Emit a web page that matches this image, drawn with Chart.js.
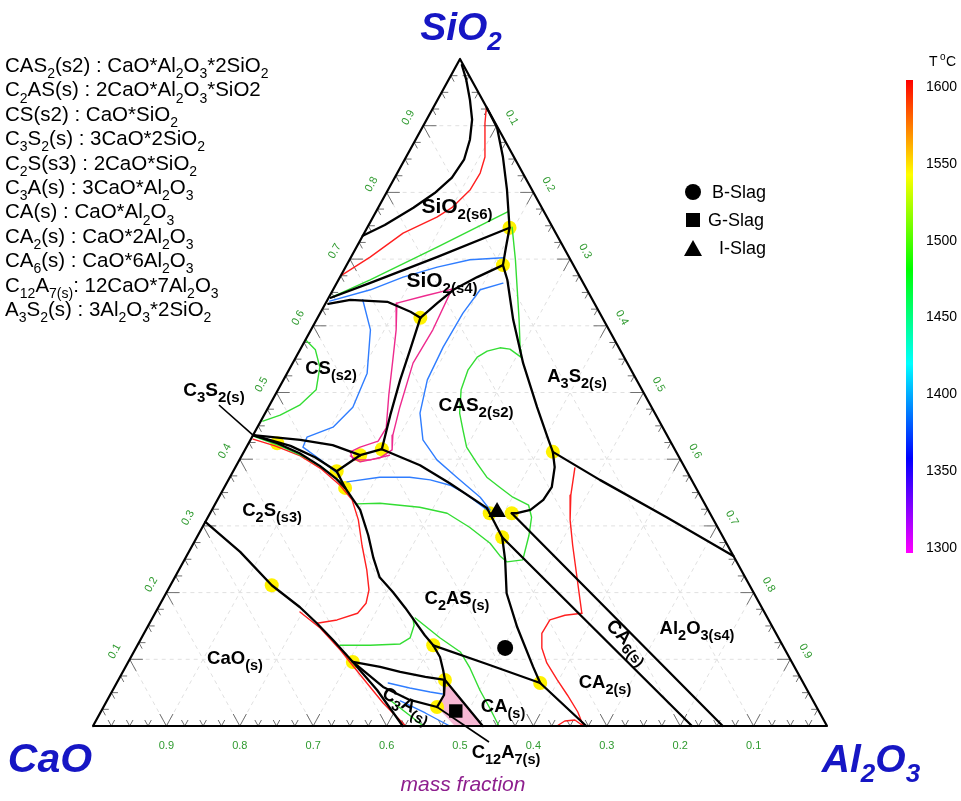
<!DOCTYPE html>
<html><head><meta charset="utf-8">
<script src="https://cdn.jsdelivr.net/npm/chart.js@4.4.1/dist/chart.umd.min.js"></script>
<style>html,body{margin:0;padding:0;background:#fff;}canvas{display:block;}</style>
</head><body>
<canvas id="c" width="961" height="801"></canvas>
<script>
// ---------- data: compositions as [SiO2, Al2O3] mass fractions (CaO = 1 - both) ----------
const frameLine = [[0,0],[0,1],[1,0],[0,0]];
const tickVals = [0.1,0.2,0.3,0.4,0.5,0.6,0.7,0.8,0.9];
const tempTicks = [1600,1550,1500,1450,1400,1350,1300];

// phase boundaries (black)
const bndSiO2s6 = [[0.735,0],[0.751,0.022],[0.777,0.048],[0.799,0.066],[0.822,0.078],[0.849,0.081],[0.879,0.074],[0.909,0.062],[0.939,0.044],[0.969,0.024],[0.991,0.007]];
const bndSiO2Right = [[0.927,0.073],[0.897,0.102],[0.853,0.132],[0.804,0.162],[0.747,0.194],[0.717,0.204],[0.691,0.213],[0.669,0.230],[0.609,0.268],[0.544,0.314],[0.478,0.366],[0.429,0.406],[0.411,0.421],[0.388,0.435],[0.358,0.446],[0.339,0.444],[0.324,0.434],[0.319,0.418],[0.319,0.411]];
const bndA3S2Al2O3 = [[0.411,0.421],[0.369,0.506],[0.313,0.625],[0.255,0.745]];
const bndCA6Upper = [[0.319,0.411],[0,0.858]];
const bndCA6Lower = [[0.283,0.416],[0,0.816]];
const bndC2ASCAS2 = [[0.415,0.186],[0.391,0.250],[0.364,0.304],[0.327,0.373],[0.319,0.381]];
const bndC2ASCA2 = [[0.319,0.381],[0.283,0.416],[0.249,0.437],[0.199,0.464],[0.148,0.504],[0.089,0.555],[0.0645,0.577]];
const bndCACA2 = [[0.0645,0.577],[0,0.672]];
const bndC2ASCA = [[0.121,0.403],[0.093,0.490],[0.0645,0.577]];
const bndC2SC2AS = [[0.357,0.165],[0.324,0.202],[0.286,0.232],[0.252,0.256],[0.223,0.279],[0.201,0.308],[0.177,0.337],[0.156,0.361],[0.136,0.384],[0.121,0.403]];
const bndC12A7Left = [[0.121,0.403],[0.1035,0.421],[0.084,0.435],[0.069,0.445],[0.0465,0.455],[0.0285,0.4545]];
const bndC12A7Right = [[0.069,0.445],[0,0.531]];
const bndC3ATop = [[0.096,0.306],[0.0885,0.347],[0.081,0.378],[0.0735,0.416],[0.069,0.445]];
const bndC3ABottom = [[0.096,0.306],[0.0585,0.366],[0.039,0.412],[0.0285,0.4545]];
const bndCaO = [[0.306,0],[0.261,0.070],[0.211,0.138],[0.178,0.193],[0.154,0.228],[0.129,0.2625],[0.096,0.306],[0.054,0.360],[0,0.422]];
const bndSiO2s4Top = [[0.642,0.003],[0.664,0.045],[0.703,0.117],[0.747,0.194]];
const bndSiO2s4Bottom = [[0.633,0.004],[0.639,0.031],[0.636,0.083],[0.621,0.122],[0.612,0.140]];
const bndSiO2s4Right = [[0.612,0.140],[0.634,0.152],[0.654,0.164],[0.673,0.187],[0.691,0.213]];
const bndCSCAS2 = [[0.612,0.140],[0.564,0.150],[0.519,0.159],[0.466,0.172],[0.415,0.186]];
const bndCSJoin = [[0.415,0.186],[0.406,0.161]];
const bndC3S2Top = [[0.436,0],[0.432,0.039],[0.429,0.068],[0.421,0.116],[0.406,0.161]];
const bndC3S2Bottom = [[0.436,0],[0.420,0.059],[0.403,0.101],[0.382,0.141]];
const bndC3S2Join = [[0.406,0.161],[0.382,0.141]];
const bndC2S = [[0.436,0],[0.424,0.039],[0.409,0.077],[0.390,0.114],[0.370,0.147],[0.357,0.165]];
const bndC2SJoin = [[0.382,0.141],[0.357,0.165]];

// isotherms (coloured)
const isoRedTop = [[0.928,0.072],[0.904,0.082],[0.853,0.1075],[0.829,0.113],[0.804,0.112],[0.778,0.101],[0.763,0.087],[0.739,0.053],[0.703,0.026],[0.676,0.001]];
const isoGreenTop = [[0.771,0.180],[0.718,0.110],[0.669,0.043],[0.643,0.004]];
const isoBlueTop = [[0.702,0.208],[0.699,0.164],[0.688,0.125],[0.673,0.086],[0.654,0.051],[0.637,0.004]];
const isoBlueCAS2 = [[0.664,0.2265],[0.654,0.2005],[0.619,0.1945],[0.568,0.193],[0.519,0.196],[0.469,0.211],[0.429,0.235],[0.399,0.269],[0.373,0.309],[0.343,0.356],[0.324,0.379]];
const isoBlueC2AS = [[0.366,0.163],[0.373,0.204],[0.373,0.245],[0.369,0.275],[0.361,0.306],[0.349,0.332],[0.324,0.375]];
const isoBlueCS = [[0.639,0.048],[0.594,0.081],[0.529,0.109],[0.478,0.115],[0.448,0.103],[0.433,0.075],[0.418,0.077],[0.400,0.109],[0.376,0.148]];
const isoGreenCAS2 = [[0.748,0.197],[0.699,0.226],[0.654,0.251],[0.609,0.276],[0.564,0.300],[0.553,0.3065],[0.565,0.2855],[0.567,0.271],[0.562,0.256],[0.553,0.247],[0.534,0.244],[0.504,0.2495],[0.469,0.265],[0.444,0.282],[0.418,0.300],[0.394,0.326],[0.373,0.350],[0.358,0.375],[0.343,0.4005],[0.331,0.428],[0.313,0.441],[0.286,0.451],[0.249,0.461],[0.246,0.441],[0.255,0.427],[0.274,0.404],[0.298,0.364],[0.319,0.323],[0.328,0.281],[0.334,0.224],[0.333,0.193]];
const isoGreenC2S = [[0.434,0.003],[0.420,0.045],[0.403,0.087],[0.385,0.123],[0.367,0.153],[0.354,0.169]];
const isoRedC2S = [[0.430,0.003],[0.420,0.038],[0.405,0.080],[0.385,0.119],[0.361,0.156],[0.339,0.1835],[0.309,0.207],[0.271,0.231],[0.234,0.256],[0.204,0.274],[0.184,0.280],[0.169,0.276],[0.159,0.253],[0.154,0.228]];
const isoRedCaO = [[0.171,0.1965],[0.147,0.236],[0.114,0.280],[0.0765,0.326],[0.0345,0.378],[0,0.426]];
const isoGreenCaO = [[0.121,0.276],[0.121,0.317],[0.123,0.357],[0.132,0.366],[0.151,0.362],[0.163,0.354]];
const isoGreenCA = [[0.162,0.358],[0.132,0.407],[0.111,0.445],[0.087,0.470],[0.054,0.500],[0.027,0.527],[0,0.553]];
const isoGreenC3A = [[0.039,0.385],[0.021,0.415],[0,0.450]];
const isoBlueC3A1 = [[0.0645,0.370],[0.057,0.403],[0.051,0.434],[0.048,0.452]];
const isoBlueC3A2 = [[0.0375,0.400],[0.0195,0.443],[0,0.486]];
const isoGreenCS = [[0.579,0],[0.564,0.021],[0.538,0.040],[0.504,0.052],[0.481,0.041],[0.466,0.022],[0.457,0.003]];
const isoRedCA2a = [[0.387,0.463],[0.346,0.478],[0.309,0.4955],[0.271,0.518],[0.226,0.546],[0.189,0.569],[0.169,0.5815]];
const isoRedCA2b = [[0.169,0.5815],[0.166,0.560],[0.159,0.543],[0.139,0.542],[0.117,0.553],[0.0945,0.571],[0.069,0.598],[0.0465,0.623],[0.021,0.650],[0,0.668]];
const isoRedBottom = [[0,0.632],[0.0075,0.639],[0.009,0.652],[0,0.668]];
const isoPinkLeft = [[0.634,0.097],[0.594,0.116],[0.549,0.134],[0.496,0.155],[0.447,0.176],[0.427,0.175],[0.418,0.155],[0.411,0.145],[0.399,0.155],[0.399,0.178],[0.406,0.201]];
const isoPinkRight = [[0.655,0.1615],[0.594,0.166],[0.544,0.164],[0.478,0.179],[0.436,0.1905],[0.414,0.2005],[0.402,0.190],[0.396,0.166],[0.405,0.148]];
const isoPinkTop = [[0.634,0.097],[0.645,0.130],[0.655,0.1615]];

// C12A7 field (shaded)
const c12a7Field = [[0.0675,0.446],[0,0.531],[0,0.493],[0.027,0.4565],[0.0465,0.455],[0.0675,0.446]];

// invariant points
const invariantPts = [[0.747,0.194],[0.691,0.213],[0.612,0.140],[0.415,0.186],[0.406,0.161],[0.424,0.039],[0.382,0.141],[0.357,0.165],[0.411,0.421],[0.319,0.381],[0.319,0.411],[0.283,0.416],[0.211,0.138],[0.096,0.306],[0.121,0.403],[0.069,0.445],[0.0285,0.4545],[0.0645,0.577]];

// slag compositions
const slagNames = ['B-Slag','G-Slag','I-Slag'];
const slagSiO2 = [0.117,0.0225,0.321];
const slagAl2O3 = [0.503,0.483,0.390];

// ---------- mapping ----------
const XMIN = -93/734, XMAX = XMIN + 961/734;
const YMAX = 726/667, YMIN = YMAX - 801/667;
function tern(p){ return {x: p[1] + p[0]/2, y: p[0]}; }

const FONT = '"Liberation Sans", Arial, Helvetica, sans-serif';
const RED = '#ff1f1f', GREEN = '#33dd33', BLUE = '#2f7dff', PINK = '#ee2a8e';

function ln(arr, color, width, order){
  return {data: arr.map(tern), showLine:true, borderColor:color, borderWidth:width, pointRadius:0, pointHoverRadius:0, fill:false, order:order, borderJoinStyle:'round', borderCapStyle:'round'};
}
const blackSets = [bndSiO2s6,bndSiO2Right,bndA3S2Al2O3,bndCA6Upper,bndCA6Lower,bndC2ASCAS2,bndC2ASCA2,bndCACA2,bndC2ASCA,bndC2SC2AS,bndC12A7Left,bndC12A7Right,bndC3ATop,bndC3ABottom,bndCaO,bndSiO2s4Top,bndSiO2s4Bottom,bndSiO2s4Right,bndCSCAS2,bndCSJoin,bndC3S2Top,bndC3S2Bottom,bndC3S2Join,bndC2S,bndC2SJoin];
const colorSets = [
  [isoRedTop,RED],[isoGreenTop,GREEN],[isoBlueTop,BLUE],[isoBlueCAS2,BLUE],[isoBlueC2AS,BLUE],[isoBlueCS,BLUE],
  [isoGreenCAS2,GREEN],[isoGreenC2S,GREEN],[isoRedC2S,RED],[isoRedCaO,RED],[isoGreenCaO,GREEN],[isoGreenCA,GREEN],
  [isoGreenC3A,GREEN],[isoBlueC3A1,BLUE],[isoBlueC3A2,BLUE],[isoGreenCS,GREEN],[isoRedCA2a,RED],[isoRedCA2b,RED],
  [isoRedBottom,RED],[isoPinkLeft,PINK],[isoPinkRight,PINK],[isoPinkTop,PINK]
];
const datasets = [];
datasets.push(ln(frameLine,'#000',2.2,1));
blackSets.forEach(a => datasets.push(ln(a,'#000',2.3,2)));
colorSets.forEach(a => datasets.push(ln(a[0],a[1],1.4,5)));
datasets.push({data:c12a7Field.map(tern), showLine:true, borderColor:'rgba(0,0,0,0)', borderWidth:0, backgroundColor:'#f6b8d4', fill:'shape', pointRadius:0, order:12});
datasets.push({data:invariantPts.map(tern), showLine:false, pointRadius:7, pointBackgroundColor:'#fff200', pointBorderWidth:0, order:11});
const slagStyles = ['circle','rect','triangle'];
const slagRadius = [8,9.5,10];
slagNames.forEach((n,i) => datasets.push({label:n, data:[tern([slagSiO2[i],slagAl2O3[i]])], showLine:false, pointStyle:slagStyles[i], pointRadius:slagRadius[i], pointBackgroundColor:'#000', pointBorderColor:'#000', pointBorderWidth:0, order:0}));

// ---------- drawing helpers ----------
function rich(ctx, str, x, y, o){
  const parts = []; const re = /_\{([^}]*)\}/g; let last = 0, m;
  while ((m = re.exec(str))) { if (m.index > last) parts.push({t:str.slice(last,m.index),s:0}); parts.push({t:m[1],s:1}); last = re.lastIndex; }
  if (last < str.length) parts.push({t:str.slice(last),s:0});
  const f = s => (o.style||'normal')+' '+(o.weight||'normal')+' '+(s?o.sub:o.size)+'px '+FONT;
  let w = 0; parts.forEach(p => { ctx.font = f(p.s); p.w = ctx.measureText(p.t).width; w += p.w; });
  let cx = o.align==='center' ? x - w/2 : x;
  ctx.fillStyle = o.color || '#000'; ctx.textAlign = 'left'; ctx.textBaseline = 'alphabetic';
  parts.forEach(p => { ctx.font = f(p.s); ctx.fillText(p.t, cx, y + (p.s ? o.size*(o.subDy||0.28) : 0)); cx += p.w; });
}
function seg(ctx,a,b){ ctx.beginPath(); ctx.moveTo(a.x,a.y); ctx.lineTo(b.x,b.y); ctx.stroke(); }
function mapper(chart){ const xs = chart.scales.x, ys = chart.scales.y; return (s,a) => ({x: xs.getPixelForValue(a + s/2), y: ys.getPixelForValue(s)}); }

const legendLines = [
 'CAS_{2}(s2) : CaO*Al_{2}O_{3}*2SiO_{2}',
 'C_{2}AS(s) : 2CaO*Al_{2}O_{3}*SiO2',
 'CS(s2) : CaO*SiO_{2}',
 'C_{3}S_{2}(s) : 3CaO*2SiO_{2}',
 'C_{2}S(s3) : 2CaO*SiO_{2}',
 'C_{3}A(s) : 3CaO*Al_{2}O_{3}',
 'CA(s) : CaO*Al_{2}O_{3}',
 'CA_{2}(s) : CaO*2Al_{2}O_{3}',
 'CA_{6}(s) : CaO*6Al_{2}O_{3}',
 'C_{12}A_{7(s)}: 12CaO*7Al_{2}O_{3}',
 'A_{3}S_{2}(s) : 3Al_{2}O_{3}*2SiO_{2}'
];
// text, centre x, centre y, rotation, size, sub size
const fieldLabels = [
 ['SiO_{2(s6)}',457,207,0,21,15],['SiO_{2(s4)}',442,281,0,21,15],['CS_{(s2)}',331,368,0,18.5,14.5],['CAS_{2(s2)}',476,405,0,19,15],
 ['A_{3}S_{2(s)}',577,376,0,18.5,14.5],['C_{3}S_{2(s)}',214,390,0,19,15],['C_{2}S_{(s3)}',272,510,0,18.5,14.5],['C_{2}AS_{(s)}',457,598,0,18.5,14.5],
 ['CaO_{(s)}',235,658,0,18.5,14.5],['CA_{(s)}',503,706,0,18.5,14.5],['CA_{2(s)}',605,682,0,18.5,14.5],['Al_{2}O_{3(s4)}',697,628,0,18.5,14.5],
 ['CA_{6(s)}',628,641,45,18.5,14.5],['C_{3}A_{(s)}',407,704,28,18.5,14.5],['C_{12}A_{7(s)}',506,752,0,18.5,14.5]
];

const decor = {
  id:'decor',
  beforeDatasetsDraw(chart){
    const ctx = chart.ctx, P = mapper(chart);
    ctx.save();
    ctx.strokeStyle = '#e0e0e0'; ctx.lineWidth = 1; ctx.setLineDash([4,4]);
    tickVals.forEach(t => { seg(ctx,P(t,0),P(t,1-t)); seg(ctx,P(0,t),P(1-t,t)); seg(ctx,P(0,1-t),P(1-t,0)); });
    ctx.setLineDash([]);
    ctx.strokeStyle = '#707070'; ctx.lineWidth = 1;
    for (let i=1;i<40;i++){
      const t = i*0.025, L = (i%4===0) ? 0.018 : 0.009;
      seg(ctx,P(0,t),P(L,t-L)); seg(ctx,P(0,t),P(L,t));
      seg(ctx,P(t,0),P(t,L)); seg(ctx,P(t,0),P(t-L,L));
      seg(ctx,P(t,1-t),P(t,1-t-L)); seg(ctx,P(t,1-t),P(t-L,1-t));
    }
    ctx.restore();
  },
  afterDatasetsDraw(chart){
    const ctx = chart.ctx, P = mapper(chart);
    ctx.save();
    // tick labels
    ctx.fillStyle = '#2f9a2f'; ctx.font = '11px '+FONT; ctx.textAlign = 'center'; ctx.textBaseline = 'middle';
    tickVals.forEach(t => {
      const lab = t.toFixed(1);
      const b = P(0,1-t); ctx.fillText(lab, b.x, b.y+20);
      const l = P(t,0); ctx.save(); ctx.translate(l.x-15, l.y-8); ctx.rotate(-61*Math.PI/180); ctx.fillText(lab,0,0); ctx.restore();
      const r = P(1-t,t); ctx.save(); ctx.translate(r.x+15, r.y-8); ctx.rotate(61*Math.PI/180); ctx.fillText(lab,0,0); ctx.restore();
    });
    // leader lines
    ctx.strokeStyle = '#000'; ctx.lineWidth = 1.6;
    const a1 = P(0.436,0); seg(ctx,{x:219,y:405},a1);
    const a2 = P(0.0285,0.4545); seg(ctx,a2,{x:489,y:742});
    // field labels
    fieldLabels.forEach(f => {
      ctx.save(); ctx.translate(f[1],f[2]); ctx.rotate(f[3]*Math.PI/180);
      rich(ctx,f[0],0,6,{size:f[4],sub:f[5],weight:'bold',align:'center',subDy:0.3});
      ctx.restore();
    });
    // compound legend
    legendLines.forEach((s,i) => rich(ctx,s,5,72+i*24.4,{size:20.5,sub:14,align:'left',subDy:0.3}));
    // vertex titles
    const tc = '#1616c4';
    rich(ctx,'SiO_{2}',461,40,{size:39,sub:26,weight:'bold',style:'italic',color:tc,align:'center',subDy:0.25});
    rich(ctx,'CaO',50,772,{size:41,sub:26,weight:'bold',style:'italic',color:tc,align:'center'});
    rich(ctx,'Al_{2}O_{3}',871,772,{size:39,sub:26,weight:'bold',style:'italic',color:tc,align:'center',subDy:0.25});
    ctx.fillStyle = '#8e1f8e'; ctx.font = 'italic 21px '+FONT; ctx.textAlign = 'center'; ctx.textBaseline = 'middle';
    ctx.fillText('mass fraction',463,785);
    // slag legend
    ctx.fillStyle = '#000';
    ctx.beginPath(); ctx.arc(693,192,8,0,Math.PI*2); ctx.fill();
    ctx.fillRect(686,213,14,14);
    ctx.beginPath(); ctx.moveTo(693,240); ctx.lineTo(702,256); ctx.lineTo(684,256); ctx.closePath(); ctx.fill();
    ctx.font = '18px '+FONT; ctx.textAlign = 'left'; ctx.textBaseline = 'middle';
    ctx.fillText(slagNames[0],712,193); ctx.fillText(slagNames[1],708,221); ctx.fillText(slagNames[2],719,249);
    // colour bar
    const top = 80, bot = 553;
    const g = ctx.createLinearGradient(0,top,0,bot);
    for (let T=1600; T>=1300; T-=10){ g.addColorStop((1600-T)/300, 'hsl('+(1600-T)+',100%,50%)'); }
    ctx.fillStyle = g; ctx.fillRect(906,top,7,bot-top);
    ctx.fillStyle = '#000'; ctx.font = '14px '+FONT; ctx.textAlign = 'left'; ctx.textBaseline = 'middle';
    tempTicks.forEach(T => ctx.fillText(String(T), 926, 87 + (1600-T)*461/300));
    ctx.fillText('T',929,62); ctx.font = '10px '+FONT; ctx.fillText('o',940,57); ctx.font = '14px '+FONT; ctx.fillText('C',946,62);
    ctx.restore();
  }
};

new Chart(document.getElementById('c'), {
  type:'scatter',
  data:{datasets:datasets},
  options:{
    responsive:false, animation:false, events:[],
    layout:{padding:0, autoPadding:false},
    plugins:{legend:{display:false}, tooltip:{enabled:false}},
    scales:{x:{type:'linear',display:false,min:XMIN,max:XMAX}, y:{type:'linear',display:false,min:YMIN,max:YMAX}}
  },
  plugins:[decor]
});
</script>
</body></html>
